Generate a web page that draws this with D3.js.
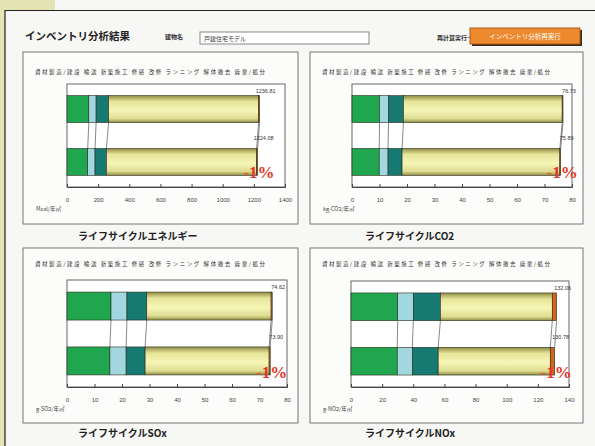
<!DOCTYPE html>
<html>
<head>
<meta charset="utf-8">
<script src="https://cdn.jsdelivr.net/npm/d3@7"></script>
<style>
  body { margin: 0; background: #fff; }
  svg { display: block; font-family: "Noto Sans CJK JP", sans-serif; }
</style>
</head>
<body>
<svg width="595" height="446"></svg>
<script>
// categories (rows of each chart)
let categories = ['標準案', '対策案'];

// stack order: 資材製造, 輸送, 施工, 運用, 解体
let energyStd = [140, 47, 80, 963.81, 6];
let energyAlt = [133, 47, 73, 965.08, 6];
let co2Std = [10, 3.3, 5.4, 57.73, 0.3];
let co2Alt = [9.9, 3.2, 5.1, 57.39, 0.3];
let soxStd = [16, 5.8, 7.2, 45.22, 0.4];
let soxAlt = [15.6, 5.9, 6.9, 45.1, 0.4];
let noxStd = [30, 10, 17.4, 71.86, 2.8];
let noxAlt = [29.7, 9.7, 16.6, 71.98, 2.8];

let energyTicks = [0, 200, 400, 600, 800, 1000, 1200, 1400];
let co2Ticks = [0, 10, 20, 30, 40, 50, 60, 70, 80];
let soxTicks = [0, 10, 20, 30, 40, 50, 60, 70, 80];
let noxTicks = [0, 20, 40, 60, 80, 100, 120, 140];

let legendLabels = ['資材製造/建設', '輸送', '新築施工', '修繕', '改修', 'ランニング', '解体撤去', '廃棄/処分'];

let titles = ['ライフサイクルエネルギー', 'ライフサイクルCO2', 'ライフサイクルSOx', 'ライフサイクルNOx'];
let units = ['Mcal/年㎡', 'kg-CO2/年㎡', 'g-SO2/年㎡', 'g-NO2/年㎡'];

let colors = ['#1fa64e', '#a3d7e0', '#167a72', 'url(#yel)', '#d2641f'];

let svg = d3.select('svg');

let defs = svg.append('defs');
let g = defs.append('linearGradient').attr('id', 'yel').attr('x1', 0).attr('y1', 0).attr('x2', 0).attr('y2', 1);
g.append('stop').attr('offset', '0%').attr('stop-color', '#8f8d45');
g.append('stop').attr('offset', '22%').attr('stop-color', '#e6e59a');
g.append('stop').attr('offset', '55%').attr('stop-color', '#f6f5b6');
g.append('stop').attr('offset', '85%').attr('stop-color', '#dedd92');
g.append('stop').attr('offset', '100%').attr('stop-color', '#8f8d45');

// page background + frame
svg.append('rect').attr('width', 595).attr('height', 446).attr('fill', '#f7f7f5');
svg.append('rect').attr('x', 0).attr('y', 0).attr('width', 55).attr('height', 10).attr('fill', '#e4e4b4');
svg.append('rect').attr('x', 0).attr('y', 0).attr('width', 5).attr('height', 446).attr('fill', '#e4e4b4');
svg.append('path').attr('d', 'M5,446V10.5H595').attr('fill', 'none').attr('stroke', '#222').attr('stroke-width', 1.2);

// header
svg.append('text').attr('x', 25).attr('y', 40).attr('font-size', 10.5).attr('font-weight', 'bold').attr('fill', '#222').text('インベントリ分析結果');
svg.append('text').attr('x', 165).attr('y', 39).attr('font-size', 6).attr('font-weight', 'bold').attr('fill', '#333').text('建物名');
svg.append('rect').attr('x', 200).attr('y', 32).attr('width', 169).attr('height', 12).attr('fill', '#fff').attr('stroke', '#888');
svg.append('text').attr('x', 204).attr('y', 40.5).attr('font-size', 6).attr('fill', '#333').text('戸建住宅モデル');
svg.append('text').attr('x', 437).attr('y', 40).attr('font-size', 6).attr('font-weight', 'bold').attr('fill', '#333').text('再計算実行→');
svg.append('rect').attr('x', 472).attr('y', 30).attr('width', 110).attr('height', 16).attr('fill', '#3a2a1a');
svg.append('rect').attr('x', 470).attr('y', 28).attr('width', 110).attr('height', 16).attr('fill', '#ee8a2e').attr('stroke', '#a85a18');
svg.append('text').attr('x', 525).attr('y', 38.5).attr('text-anchor', 'middle').attr('font-size', 6.5).attr('fill', '#fff').text('インベントリ分析再実行');

let panels = [
  { std: energyStd, alt: energyAlt, ticks: energyTicks, box: [23, 52, 298, 224], plot: [67, 84, 285, 187], legendY: 74, titleY: 240 },
  { std: co2Std, alt: co2Alt, ticks: co2Ticks, box: [310, 52, 583, 224], plot: [352, 84, 572, 187], legendY: 74, titleY: 240 },
  { std: soxStd, alt: soxAlt, ticks: soxTicks, box: [23, 248, 298, 423], plot: [67, 280, 287, 387], legendY: 266, titleY: 437 },
  { std: noxStd, alt: noxAlt, ticks: noxTicks, box: [310, 248, 583, 423], plot: [351, 281, 569, 387], legendY: 266, titleY: 437 },
];

panels.forEach((p, i) => {
  let [bx0, by0, bx1, by1] = p.box;
  let [px0, py0, px1, py1] = p.plot;

  svg.append('rect').attr('x', bx0).attr('y', by0).attr('width', bx1 - bx0).attr('height', by1 - by0)
    .attr('fill', '#fcfcfb').attr('stroke', '#777');

  svg.append('text').attr('x', bx0 + 12).attr('y', p.legendY).attr('font-size', 5.5).attr('fill', '#333')
    .attr('textLength', bx1 - bx0 - 45).attr('lengthAdjust', 'spacing')
    .text(legendLabels.join('  '));

  svg.append('text').attr('x', bx0 + 55).attr('y', p.titleY).attr('font-size', 10).attr('font-weight', 'bold').attr('fill', '#222')
    .text(titles[i]);

  let xScale = d3.scaleLinear().domain([0, p.ticks[p.ticks.length - 1]]).range([px0, px1]);
  let yScale = d3.scaleBand().domain(categories).range([py0, py1]).paddingInner(0.49).paddingOuter(0.22);

  svg.append('rect').attr('x', px0).attr('y', py0).attr('width', px1 - px0).attr('height', py1 - py0)
    .attr('fill', '#fff').attr('stroke', '#666');

  let xAxis = d3.axisBottom(xScale).tickValues(p.ticks).tickFormat(d3.format('d')).tickSize(-3).tickPadding(11);
  let ax = svg.append('g').attr('transform', `translate(0,${py1})`).call(xAxis);
  ax.select('.domain').attr('stroke', '#444');
  ax.selectAll('line').attr('stroke', '#444');
  ax.selectAll('text').attr('font-size', 6).attr('fill', '#444').attr('font-family', 'Liberation Sans, sans-serif');

  svg.append('text').attr('x', bx0 + 13).attr('y', py1 + 24).attr('font-size', 5.5).attr('fill', '#444').text(units[i]);

  let rows = [p.std, p.alt];
  let stacks = rows.map((vals) => {
    let acc = 0;
    return vals.map((v) => { let s = acc; acc += v; return [s, acc]; });
  });

  // series lines between the two bars
  stacks[0].forEach((seg, k) => {
    svg.append('line')
      .attr('x1', xScale(seg[1])).attr('y1', yScale(categories[0]) + yScale.bandwidth())
      .attr('x2', xScale(stacks[1][k][1])).attr('y2', yScale(categories[1]))
      .attr('stroke', '#555').attr('stroke-width', 0.7);
  });

  stacks.forEach((st, r) => {
    let y = yScale(categories[r]);
    svg.append('g').selectAll('rect').data(st).enter().append('rect')
      .attr('x', (d) => xScale(d[0]))
      .attr('y', y)
      .attr('width', (d) => xScale(d[1]) - xScale(d[0]))
      .attr('height', yScale.bandwidth())
      .attr('fill', (d, k) => colors[k])
      .attr('stroke', '#2a2a1a').attr('stroke-width', 0.6);

    let total = d3.sum(rows[r]);
    svg.append('text').attr('x', xScale(total) + 6).attr('y', y - (r === 0 ? 3 : 8))
      .attr('text-anchor', 'middle').attr('font-size', 5.5).attr('fill', '#333')
      .attr('font-family', 'Liberation Sans, sans-serif').text(total.toFixed(2));
  });

  // reduction rate
  let t0 = d3.sum(p.std), t1 = d3.sum(p.alt);
  let pct = Math.round((t1 - t0) / t0 * 100);
  let lab = svg.append('text').attr('x', xScale(t1) + 17)
    .attr('y', yScale(categories[1]) + yScale.bandwidth() + 3)
    .attr('text-anchor', 'end').attr('font-size', 17).attr('font-weight', 'bold')
    .attr('font-family', 'Liberation Serif, serif');
  lab.append('tspan').attr('fill', '#e8602a').text('-');
  lab.append('tspan').attr('fill', '#e4362b').text(Math.abs(pct) + '%');
});
</script>
</body>
</html>
